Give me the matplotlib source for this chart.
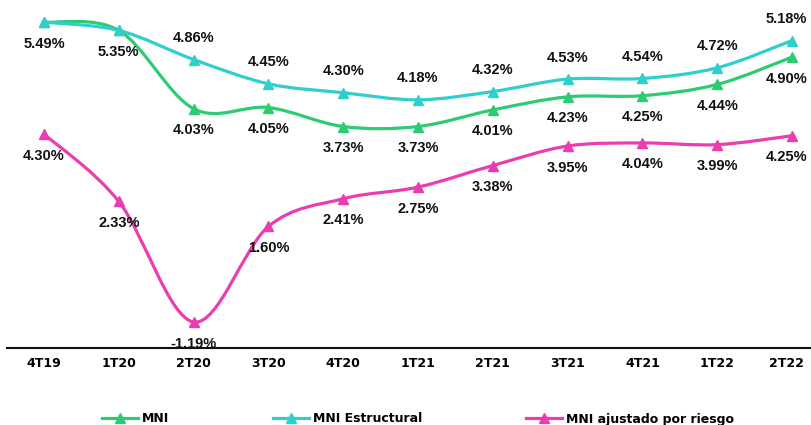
import numpy as np
import matplotlib.pyplot as plt
import matplotlib.transforms as mtransforms
from matplotlib.path import Path
from matplotlib.patches import PathPatch
from matplotlib.lines import Line2D

quarters = ['4T19', '1T20', '2T20', '3T20', '4T20', '1T21', '2T21', '3T21', '4T21', '1T22', '2T22']
mni = [5.49, 5.35, 4.03, 4.05, 3.73, 3.73, 4.01, 4.23, 4.25, 4.44, 4.90]
mni_estructural = [5.49, 5.35, 4.86, 4.45, 4.30, 4.18, 4.32, 4.53, 4.54, 4.72, 5.18]
mni_riesgo = [4.30, 2.33, -1.19, 1.60, 2.41, 2.75, 3.38, 3.95, 4.04, 3.99, 4.25]

green = '#2dcc72'
cyan = '#30cfcc'
pink = '#ea3daf'


def smooth_path(xs, ys):
    # excel-like smoothed line: bezier segments with catmull-rom handles
    pts = np.column_stack([xs, ys]).astype(float)
    n = len(pts)
    verts = [pts[0]]
    codes = [Path.MOVETO]
    for i in range(n - 1):
        p0 = pts[i - 1] if i > 0 else pts[i]
        p1 = pts[i]
        p2 = pts[i + 1]
        p3 = pts[i + 2] if i + 2 < n else pts[i + 1]
        c1 = p1 + (p2 - p0) / 6
        c2 = p2 - (p3 - p1) / 6
        verts += [c1, c2, p2]
        codes += [Path.CURVE4] * 3
    return Path(verts, codes)


fig = plt.figure(figsize=(8.11, 4.25), dpi=100)
ax = fig.add_axes([6.6 / 811, 1 - 347.7 / 425, 822.8 / 811, 347.7 / 425])
ax2 = ax.twinx()

x = np.arange(len(quarters))
for a in (ax, ax2):
    a.set_xlim(-0.5, 10.5)
    a.set_yticks([])
    for s in ['top', 'right', 'left']:
        a.spines[s].set_visible(False)
    a.patch.set_visible(False)
ax2.spines['bottom'].set_visible(False)
ax.spines['bottom'].set_color('#111111')
ax.spines['bottom'].set_linewidth(1.5)

ax.set_ylim(0, 347.7 / 59.3)
ax2.set_ylim(-1.94, -1.94 + 347.7 / 34.24)

ax.set_xticks(x)
ax.set_xticklabels(quarters, fontsize=9, fontweight='bold', family='DejaVu Sans')
ax.tick_params(axis='x', length=0, pad=7)
# last tick label sits a bit left in the original
shift = mtransforms.ScaledTranslation(-0.06, 0, fig.dpi_scale_trans)
last = ax.get_xticklabels()[-1]
last.set_transform(last.get_transform() + shift)

series = [(ax, mni, green), (ax, mni_estructural, cyan), (ax2, mni_riesgo, pink)]
for a, vals, col in series:
    a.add_patch(PathPatch(smooth_path(x, vals), fill=False, edgecolor=col, lw=2.3,
                          clip_on=False, capstyle='round'))
    a.plot(x, vals, ls='none', marker='^', ms=6.5, color=col, clip_on=False)

lbl = dict(ha='center', va='center', fontsize=10.5, fontweight='bold',
           family='Liberation Sans', color='#111111', textcoords='offset points',
           annotation_clip=False)
off = 15.5


def dx(i):
    # keep the last column inside the picture
    return -4 if i == len(quarters) - 1 else 0


for i, v in enumerate(mni):
    if i < 2:
        continue
    ax.annotate(f'{v:.2f}%', (x[i], v), xytext=(dx(i), -off), **lbl)
for i, v in enumerate(mni_estructural):
    dy = -off if i < 2 else off
    ax.annotate(f'{v:.2f}%', (x[i], v), xytext=(dx(i), dy), **lbl)
for i, v in enumerate(mni_riesgo):
    ax2.annotate(f'{v:.2f}%', (x[i], v), xytext=(dx(i), -off), **lbl)

handles = [Line2D([], [], color=green, lw=2.3, marker='^', ms=6.5),
           Line2D([], [], color=cyan, lw=2.3, marker='^', ms=6.5),
           Line2D([], [], color=pink, lw=2.3, marker='^', ms=6.5)]
names = ['MNI', 'MNI Estructural', 'MNI ajustado por riesgo']
fig.legend(handles, names, loc='center', bbox_to_anchor=(418 / 811, 1 - 419 / 425),
           ncol=3, frameon=False, handlelength=2.9, handletextpad=0.3,
           columnspacing=8.3, borderpad=0,
           prop={'family': 'DejaVu Sans', 'weight': 'bold', 'size': 9})

fig.savefig('out.png', dpi=100)
